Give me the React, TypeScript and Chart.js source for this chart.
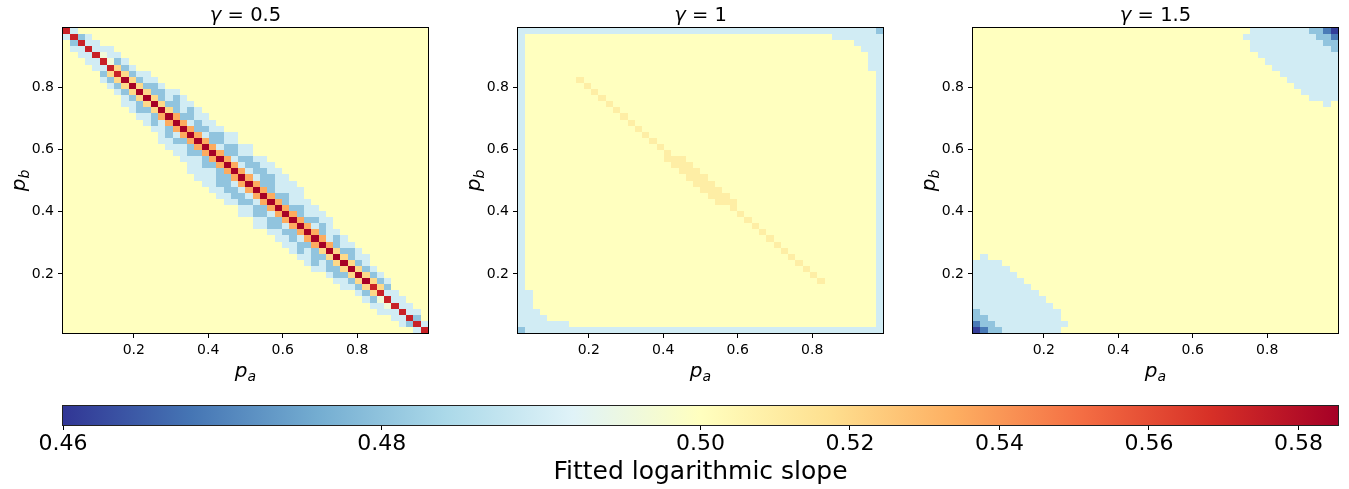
import React, { useEffect, useRef } from 'react';
import { Chart, registerables } from 'chart.js';

Chart.register(...registerables);

// ---------------- data ----------------
const GRID_SIZE = 50;
const P_MIN = 0.01;
const P_MAX = 0.99;
const AXIS_TICKS = [0.2, 0.4, 0.6, 0.8];
const PANEL_GAMMAS = ['0.5', '1', '1.5'];

const COLORBAR_TICKS = [0.46, 0.48, 0.5, 0.52, 0.54, 0.56, 0.58];
const COLORBAR_LABEL = 'Fitted logarithmic slope';
const V_MIN = 0.46;
const V_CENTER = 0.5;
const V_MAX = 0.5853;

// fitted slope value for each cell code
const LEVEL_VALUES: Record<string, number> = {
  '.': 0.5,
  w: 0.4965,
  l: 0.4898,
  b: 0.4802,
  B: 0.4688,
  D: 0.461,
  y: 0.5095,
  o: 0.5195,
  O: 0.535,
  r: 0.5734,
  R: 0.585,
};

// panel gamma = 0.5 : [row from top, first column, cell codes]
const PANEL1_SEGMENTS: Array<[number, number, string]> = [
  [0, 0, 'rl'],
  [1, 0, 'lrbl'],
  [2, 1, 'brll'],
  [3, 1, 'llrlll'],
  [4, 2, 'llrwll'],
  [5, 3, 'llrwbl'],
  [6, 4, 'llrobl'],
  [7, 5, 'borobll'],
  [8, 5, 'lboRobll'],
  [9, 6, 'lboRobbl'],
  [10, 7, 'lboRobbll'],
  [11, 8, 'lboRoblbl'],
  [12, 8, 'llboRobbll'],
  [13, 9, 'lbboRoblbl'],
  [14, 10, 'llbORObbll'],
  [15, 11, 'lblOROlbll'],
  [16, 12, 'llbORObbll'],
  [17, 13, 'lblOROlbbll'],
  [18, 13, 'llbbORObbll'],
  [19, 14, 'lllbOROlbbll'],
  [20, 15, 'llbbORObbll'],
  [21, 16, 'lllbOROlbbll'],
  [22, 17, 'llbbOROlbbll'],
  [23, 17, 'llllbOROlbbll'],
  [24, 18, 'lllbbOROlbbll'],
  [25, 19, 'llbblORObblll'],
  [26, 20, 'llbblORObllll'],
  [27, 21, 'llbblORObbll'],
  [28, 22, 'llbblOROblll'],
  [29, 24, 'llbbORObbll'],
  [30, 24, 'llbblOROblll'],
  [31, 26, 'llbbORObbll'],
  [32, 26, 'llbblOROlbl'],
  [33, 28, 'llbbORObll'],
  [34, 29, 'llblOROlbl'],
  [35, 30, 'llbbORObll'],
  [36, 31, 'lblboRobbl'],
  [37, 32, 'llbboRobll'],
  [38, 33, 'lblboRobl'],
  [39, 34, 'llbboRobl'],
  [40, 36, 'lbboRobl'],
  [41, 37, 'llboRobl'],
  [42, 38, 'llborob'],
  [43, 40, 'lborll'],
  [44, 41, 'lbwrll'],
  [45, 42, 'llwrll'],
  [46, 43, 'lllrll'],
  [47, 45, 'llrb'],
  [48, 46, 'lbrl'],
  [49, 48, 'lr'],
];

// [rowFrom, rowTo, colFrom, colTo, code]
const PANEL2_RECTS: Array<[number, number, number, number, string]> = [
  [0, 0, 0, 48, 'l'],
  [0, 0, 49, 49, 'b'],
  [1, 48, 0, 0, 'l'],
  [1, 48, 49, 49, 'l'],
  [49, 49, 0, 0, 'b'],
  [49, 49, 1, 49, 'l'],
  [1, 1, 43, 48, 'l'],
  [2, 2, 46, 48, 'l'],
  [3, 3, 47, 48, 'l'],
  [4, 6, 48, 48, 'l'],
  [43, 45, 1, 1, 'l'],
  [46, 46, 1, 2, 'l'],
  [47, 47, 1, 3, 'l'],
  [48, 48, 1, 6, 'l'],
];
// [rowFrom, rowTo, offsetFrom, offsetTo, code] along p_a + p_b = 1
const PANEL2_DIAGONAL: Array<[number, number, number, number, string]> = [
  [8, 20, 0, 0, 'y'],
  [21, 28, -1, 1, 'y'],
  [29, 41, 0, 0, 'y'],
];

const PANEL3_RECTS: Array<[number, number, number, number, string]> = [
  [0, 0, 38, 49, 'l'],
  [1, 1, 37, 49, 'l'],
  [2, 3, 38, 49, 'l'],
  [4, 4, 39, 49, 'l'],
  [5, 5, 40, 49, 'l'],
  [6, 6, 41, 49, 'l'],
  [7, 7, 42, 49, 'l'],
  [8, 8, 43, 49, 'l'],
  [9, 9, 44, 49, 'l'],
  [10, 10, 45, 49, 'l'],
  [11, 11, 46, 49, 'l'],
  [12, 12, 48, 48, 'l'],
  [0, 0, 46, 47, 'b'],
  [0, 0, 48, 48, 'B'],
  [0, 0, 49, 49, 'D'],
  [1, 1, 47, 48, 'b'],
  [1, 1, 49, 49, 'B'],
  [2, 2, 48, 49, 'b'],
  [3, 3, 49, 49, 'b'],
  [37, 37, 1, 1, 'l'],
  [38, 38, 0, 3, 'l'],
  [39, 39, 0, 4, 'l'],
  [40, 40, 0, 5, 'l'],
  [41, 41, 0, 6, 'l'],
  [42, 42, 0, 7, 'l'],
  [43, 43, 0, 8, 'l'],
  [44, 44, 0, 9, 'l'],
  [45, 45, 0, 10, 'l'],
  [46, 47, 0, 11, 'l'],
  [48, 48, 0, 12, 'l'],
  [49, 49, 0, 11, 'l'],
  [46, 46, 0, 0, 'b'],
  [47, 47, 0, 1, 'b'],
  [48, 48, 1, 2, 'b'],
  [48, 48, 0, 0, 'B'],
  [49, 49, 2, 3, 'b'],
  [49, 49, 1, 1, 'B'],
  [49, 49, 0, 0, 'D'],
];

// ---------------- helpers ----------------
const RDYLBU_R = [
  '#313695', '#4575b4', '#74add1', '#abd9e9', '#e0f3f8', '#ffffbf',
  '#fee090', '#fdae61', '#f46d43', '#d73027', '#a50026',
];
const FONT = '"DejaVu Sans", sans-serif';

function normValue(v: number): number {
  if (v <= V_CENTER) return 0.5 * (v - V_MIN) / (V_CENTER - V_MIN);
  return 0.5 + 0.5 * (v - V_CENTER) / (V_MAX - V_CENTER);
}
function hexToRgb(h: string): number[] {
  return [parseInt(h.slice(1, 3), 16), parseInt(h.slice(3, 5), 16), parseInt(h.slice(5, 7), 16)];
}
function colorForValue(v: number): string {
  const t = Math.max(0, Math.min(1, normValue(v)));
  const pos = t * 10;
  const i = Math.min(9, Math.floor(pos));
  const f = pos - i;
  const a = hexToRgb(RDYLBU_R[i]);
  const b = hexToRgb(RDYLBU_R[i + 1]);
  const c = a.map((x, k) => Math.round(x + (b[k] - x) * f));
  return `rgb(${c[0]},${c[1]},${c[2]})`;
}

function buildGrid(
  segments: Array<[number, number, string]>,
  rects: Array<[number, number, number, number, string]>,
  diagonals: Array<[number, number, number, number, string]>,
): string[][] {
  const g: string[][] = [];
  for (let i = 0; i < GRID_SIZE; i++) g.push(new Array(GRID_SIZE).fill('.'));
  for (const [r, c0, pat] of segments) {
    for (let k = 0; k < pat.length; k++) if (c0 + k < GRID_SIZE) g[r][c0 + k] = pat[k];
  }
  for (const [r0, r1, c0, c1, ch] of rects) {
    for (let r = r0; r <= r1; r++) for (let c = c0; c <= c1; c++) g[r][c] = ch;
  }
  for (const [r0, r1, d0, d1, ch] of diagonals) {
    for (let r = r0; r <= r1; r++) for (let d = d0; d <= d1; d++) g[r][r + d] = ch;
  }
  return g;
}

const CELL = (P_MAX - P_MIN) / GRID_SIZE;

type Cell = { x: number; y: number; v: number };

const heatmapPlugin = {
  id: 'heatmapCells',
  beforeDatasetsDraw(chart: any) {
    const ctx = chart.ctx;
    const xs = chart.scales.x;
    const ys = chart.scales.y;
    const cells = chart.data.datasets[0].data as Cell[];
    ctx.save();
    for (const c of cells) {
      const x0 = Math.round(xs.getPixelForValue(c.x - CELL / 2));
      const x1 = Math.round(xs.getPixelForValue(c.x + CELL / 2));
      const y0 = Math.round(ys.getPixelForValue(c.y + CELL / 2));
      const y1 = Math.round(ys.getPixelForValue(c.y - CELL / 2));
      ctx.fillStyle = colorForValue(c.v);
      ctx.fillRect(x0, y0, x1 - x0, y1 - y0);
    }
    ctx.restore();
  },
};

function drawMathLabel(ctx: CanvasRenderingContext2D, main: string, sub: string, cx: number, baseline: number) {
  const fMain = `italic 20px ${FONT}`;
  const fSub = `italic 14px ${FONT}`;
  ctx.font = fMain;
  const w1 = ctx.measureText(main).width;
  ctx.font = fSub;
  const w2 = ctx.measureText(sub).width;
  const x = cx - (w1 + w2) / 2;
  ctx.font = fMain;
  ctx.fillText(main, x, baseline);
  ctx.font = fSub;
  ctx.fillText(sub, x + w1, baseline + 4);
}

function panelDecorPlugin(gamma: string) {
  return {
    id: 'panelDecor',
    afterDraw(chart: any) {
      const ctx: CanvasRenderingContext2D = chart.ctx;
      const a = chart.chartArea;
      ctx.save();
      ctx.strokeStyle = '#000';
      ctx.lineWidth = 1;
      ctx.strokeRect(a.left - 0.5, a.top - 0.5, a.right - a.left + 1, a.bottom - a.top + 1);
      ctx.fillStyle = '#000';
      ctx.textBaseline = 'alphabetic';
      ctx.textAlign = 'left';
      // title
      const fi = `italic 19.5px ${FONT}`;
      const fr = `19.5px ${FONT}`;
      ctx.font = fi;
      const wg = ctx.measureText('γ').width;
      const rest = ' = ' + gamma;
      ctx.font = fr;
      const wr = ctx.measureText(rest).width;
      const cx = (a.left + a.right) / 2;
      const tx = cx - (wg + wr) / 2;
      ctx.font = fi;
      ctx.fillText('γ', tx, 21);
      ctx.font = fr;
      ctx.fillText(rest, tx + wg, 21);
      // x label
      drawMathLabel(ctx, 'p', 'a', cx, 377);
      // y label
      ctx.translate(25, (a.top + a.bottom) / 2);
      ctx.rotate(-Math.PI / 2);
      drawMathLabel(ctx, 'p', 'b', 0, 0);
      ctx.restore();
    },
  };
}

function makePanel(canvas: HTMLCanvasElement, grid: string[][], gamma: string) {
  const cells: Cell[] = [];
  for (let i = 0; i < GRID_SIZE; i++) {
    for (let j = 0; j < GRID_SIZE; j++) {
      cells.push({
        x: P_MIN + (j + 0.5) * CELL,
        y: P_MAX - (i + 0.5) * CELL,
        v: LEVEL_VALUES[grid[i][j]],
      });
    }
  }
  const tickFont = { family: FONT, size: 14 };
  const axisCommon = {
    type: 'linear' as const,
    min: P_MIN,
    max: P_MAX,
    afterBuildTicks: (s: any) => {
      s.ticks = AXIS_TICKS.map((v) => ({ value: v }));
    },
    grid: { drawOnChartArea: false, drawTicks: true, tickLength: 5, color: '#000', lineWidth: 1 },
    border: { display: false },
    ticks: {
      color: '#000',
      font: tickFont,
      padding: 4,
      maxRotation: 0,
      autoSkip: false,
      callback: (v: any) => Number(v).toFixed(1),
    },
  };
  return new Chart(canvas, {
    type: 'scatter',
    data: { datasets: [{ data: cells as any, pointRadius: 0, pointHoverRadius: 0 }] },
    options: {
      animation: false,
      responsive: false,
      maintainAspectRatio: false,
      events: [],
      layout: { padding: { left: 0, right: 11, top: 28, bottom: 0 } },
      plugins: { legend: { display: false }, tooltip: { enabled: false }, title: { display: false } },
      scales: {
        x: { ...axisCommon, afterFit: (s: any) => { s.height = 57; } },
        y: { ...axisCommon, afterFit: (s: any) => { s.width = 63; } },
      },
    } as any,
    plugins: [heatmapPlugin, panelDecorPlugin(gamma)],
  });
}

const colorbarPlugin = {
  id: 'colorbarFill',
  beforeDatasetsDraw(chart: any) {
    const ctx: CanvasRenderingContext2D = chart.ctx;
    const xs = chart.scales.x;
    const a = chart.chartArea;
    const x0 = xs.getPixelForValue(0);
    const x1 = xs.getPixelForValue(1);
    const g = ctx.createLinearGradient(x0, 0, x1, 0);
    RDYLBU_R.forEach((c, k) => g.addColorStop(k / 10, c));
    ctx.save();
    ctx.fillStyle = g;
    ctx.fillRect(x0, a.top, x1 - x0, a.bottom - a.top);
    ctx.restore();
  },
  afterDraw(chart: any) {
    const ctx: CanvasRenderingContext2D = chart.ctx;
    const a = chart.chartArea;
    ctx.save();
    ctx.strokeStyle = '#222';
    ctx.lineWidth = 1;
    ctx.strokeRect(a.left - 0.5, a.top - 0.5, a.right - a.left + 1, a.bottom - a.top + 1);
    ctx.fillStyle = '#000';
    ctx.font = `25px ${FONT}`;
    ctx.textAlign = 'center';
    ctx.textBaseline = 'alphabetic';
    ctx.fillText(COLORBAR_LABEL, (a.left + a.right) / 2, 89);
    ctx.restore();
  },
};

function makeColorbar(canvas: HTMLCanvasElement) {
  return new Chart(canvas, {
    type: 'scatter',
    data: { datasets: [] },
    options: {
      animation: false,
      responsive: false,
      maintainAspectRatio: false,
      events: [],
      layout: { padding: { left: 63, right: 11, top: 16, bottom: 0 } },
      plugins: { legend: { display: false }, tooltip: { enabled: false } },
      scales: {
        x: {
          type: 'linear',
          min: 0,
          max: 1,
          afterBuildTicks: (s: any) => {
            s.ticks = COLORBAR_TICKS.map((v) => ({ value: normValue(v) }));
          },
          afterFit: (s: any) => { s.height = 64; },
          grid: { drawOnChartArea: false, drawTicks: true, tickLength: 5, color: '#000', lineWidth: 1 },
          border: { display: false },
          ticks: {
            color: '#000',
            font: { family: FONT, size: 22 },
            padding: 1,
            maxRotation: 0,
            autoSkip: false,
            callback: (_v: any, idx: number) => COLORBAR_TICKS[idx].toFixed(2),
          },
        },
        y: { type: 'linear', display: false, min: 0, max: 1 },
      },
    } as any,
    plugins: [colorbarPlugin],
  });
}

export default function App() {
  const c1 = useRef<HTMLCanvasElement>(null);
  const c2 = useRef<HTMLCanvasElement>(null);
  const c3 = useRef<HTMLCanvasElement>(null);
  const cb = useRef<HTMLCanvasElement>(null);

  useEffect(() => {
    const grids = [
      buildGrid(PANEL1_SEGMENTS, [], []),
      buildGrid([], PANEL2_RECTS, PANEL2_DIAGONAL),
      buildGrid([], PANEL3_RECTS, []),
    ];
    const canvases = [c1.current!, c2.current!, c3.current!];
    const charts = canvases.map((cv, k) => makePanel(cv, grids[k], PANEL_GAMMAS[k]));
    charts.push(makeColorbar(cb.current!));
    return () => charts.forEach((ch) => ch.destroy());
  }, []);

  const panelStyle = (left: number): React.CSSProperties => ({
    position: 'absolute', left, top: 0, width: 439, height: 390,
  });

  return (
    <div style={{ position: 'absolute', left: 0, top: 0, width: 1349, height: 489, overflow: 'hidden', background: '#fff' }}>
      <canvas ref={c1} width={439} height={390} style={panelStyle(0)} />
      <canvas ref={c2} width={439} height={390} style={panelStyle(455)} />
      <canvas ref={c3} width={439} height={390} style={panelStyle(910)} />
      <canvas ref={cb} width={1349} height={99} style={{ position: 'absolute', left: 0, top: 390, width: 1349, height: 99 }} />
    </div>
  );
}
